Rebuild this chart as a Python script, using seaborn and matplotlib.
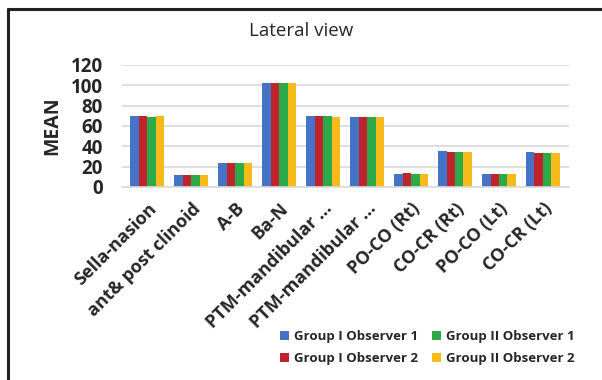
import matplotlib
matplotlib.use("Agg")
import matplotlib.pyplot as plt
import seaborn as sns
import pandas as pd
from matplotlib.lines import Line2D

# measurements on the x axis
measures = ["Sella-nasion", "ant& post clinoid", "A-B", "Ba-N",
            "PTM-mandibular ...", "PTM-mandibular ...", "PO-CO (Rt)",
            "CO-CR (Rt)", "PO-CO (Lt)", "CO-CR (Lt)"]
measure_ids = [f"m{i}" for i in range(len(measures))]

groups = ["Group I Observer 1", "Group I Observer 2",
          "Group II Observer 1", "Group II Observer 2"]

g1_obs1 = [69.5, 11.5, 24.0, 102.0, 69.5, 69.0, 13.0, 35.0, 12.5, 34.0]
g1_obs2 = [69.5, 12.0, 24.0, 102.0, 69.5, 68.5, 13.5, 34.0, 13.0, 33.5]
g2_obs1 = [69.0, 11.5, 23.5, 102.0, 69.5, 68.5, 13.0, 34.5, 12.5, 33.5]
g2_obs2 = [69.5, 11.5, 24.0, 102.0, 69.0, 68.5, 13.0, 34.0, 13.0, 33.5]

yticks = [0, 20, 40, 60, 80, 100, 120]
colors = ["#4472C4", "#C0232B", "#2BAA4A", "#F7BA1B"]

rows = []
for grp, vals in zip(groups, [g1_obs1, g1_obs2, g2_obs1, g2_obs2]):
    for mid, v in zip(measure_ids, vals):
        rows.append({"measure": mid, "group": grp, "mean": v})
df = pd.DataFrame(rows)

sns.set_theme(style="white")
plt.rcParams["font.family"] = ["Open Sans", "DejaVu Sans"]

fig = plt.figure(figsize=(6.02, 3.8), dpi=100)
ax = fig.add_axes([0.203, 0.508, 0.742, 0.321])

sns.barplot(data=df, x="measure", y="mean", hue="group", order=measure_ids,
            hue_order=groups, palette=colors, width=0.77, saturation=1,
            edgecolor="none", ax=ax)

ax.set_ylim(0, 120)
ax.set_yticks(yticks)
ax.set_yticklabels([str(t) for t in yticks], fontsize=13.5, fontweight="bold")
ax.yaxis.grid(True, color="#D9D9D9", linewidth=1.2)
ax.set_axisbelow(True)
for s in ["top", "right", "left"]:
    ax.spines[s].set_visible(False)
ax.spines["bottom"].set_color("#D9D9D9")
ax.spines["bottom"].set_linewidth(1.2)
ax.tick_params(axis="y", length=0, pad=14)
ax.tick_params(axis="x", length=0, pad=9)

ax.set_xticks(range(len(measures)))
ax.set_xticklabels(measures, rotation=45, ha="right", rotation_mode="anchor",
                   fontsize=13, fontweight="bold")
ax.set_xlabel("")
ax.set_ylabel("MEAN", fontsize=14, fontweight="bold", labelpad=6)
ax.set_xlim(-0.57, len(measures) - 0.41)

fig.text(0.5, 0.918, "Lateral view", ha="center", va="center", fontsize=13.5)

handles, labels = ax.get_legend_handles_labels()
ax.get_legend().remove()
fig.legend(handles, labels, ncol=2, loc="center", bbox_to_anchor=(0.71, 0.085),
           frameon=False, handlelength=0.7, handleheight=0.7,
           handletextpad=0.4, columnspacing=1.0, labelspacing=0.65,
           prop={"weight": "bold", "size": 9.5})

# partial outer frame (left and top edges visible)
fig.add_artist(Line2D([0.014, 0.014], [0.0, 0.977], color="#222222", linewidth=2.2))
fig.add_artist(Line2D([0.014, 1.0], [0.977, 0.977], color="#222222", linewidth=2.2))

fig.savefig("out.png", dpi=100)
